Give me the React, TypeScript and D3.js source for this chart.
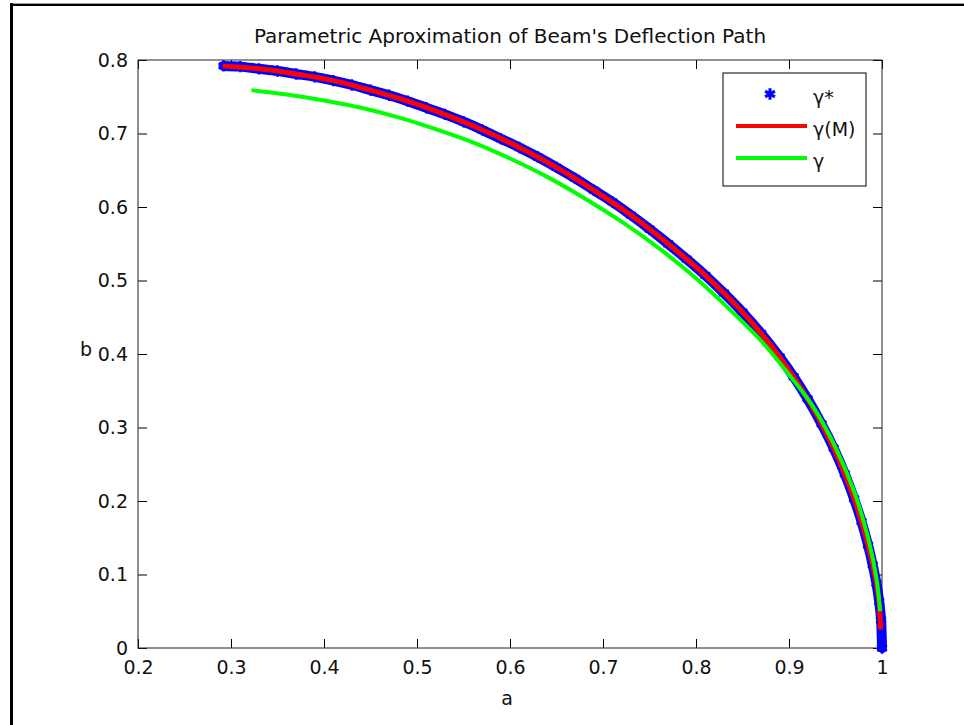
import React, { useRef, useEffect } from "react";
import * as d3 from "d3";

// gamma* : measured deflection path (blue stars)
const starA = [0.292, 0.31, 0.33, 0.35, 0.37, 0.39, 0.41, 0.43, 0.45, 0.47, 0.49, 0.51, 0.53, 0.55, 0.57, 0.59, 0.61, 0.63, 0.65, 0.67, 0.69, 0.71, 0.73, 0.75, 0.77, 0.79, 0.81, 0.83, 0.85, 0.87, 0.89, 0.905, 0.92, 0.935, 0.948, 0.96, 0.97, 0.978, 0.985, 0.99, 0.994, 0.997, 0.999, 1.0];
const starB = [0.792, 0.791, 0.788, 0.785, 0.781, 0.777, 0.772, 0.766, 0.759, 0.752, 0.744, 0.735, 0.726, 0.716, 0.705, 0.693, 0.681, 0.668, 0.654, 0.639, 0.623, 0.607, 0.589, 0.57, 0.55, 0.529, 0.507, 0.483, 0.457, 0.428, 0.396, 0.369, 0.339, 0.305, 0.272, 0.237, 0.203, 0.172, 0.14, 0.113, 0.088, 0.063, 0.038, 0.0];

// gamma(M) : red approximation
const approxA = [0.291, 0.33, 0.37, 0.41, 0.45, 0.49, 0.53, 0.57, 0.61, 0.65, 0.69, 0.73, 0.77, 0.81, 0.85, 0.89, 0.92, 0.948, 0.97, 0.985, 0.994, 0.997, 0.9985];
const approxB = [0.792, 0.788, 0.781, 0.772, 0.759, 0.744, 0.726, 0.705, 0.681, 0.654, 0.623, 0.589, 0.55, 0.507, 0.457, 0.396, 0.339, 0.272, 0.203, 0.14, 0.088, 0.06, 0.025];

// gamma : green path
const gammaA = [0.322, 0.36, 0.4, 0.44, 0.48, 0.52, 0.56, 0.6, 0.64, 0.68, 0.72, 0.76, 0.8, 0.84, 0.87, 0.9, 0.925, 0.95, 0.97, 0.985, 0.994, 0.998];
const gammaB = [0.759, 0.753, 0.745, 0.735, 0.722, 0.706, 0.688, 0.666, 0.641, 0.612, 0.58, 0.544, 0.503, 0.456, 0.418, 0.372, 0.33, 0.273, 0.213, 0.15, 0.095, 0.05];

const xTicks = [0.2, 0.3, 0.4, 0.5, 0.6, 0.7, 0.8, 0.9, 1];
const yTicks = [0, 0.1, 0.2, 0.3, 0.4, 0.5, 0.6, 0.7, 0.8];
const legendLabels = ["γ*", "γ(M)", "γ"];
const title = "Parametric Aproximation of Beam's Deflection Path";

type Pt = [number, number];
const zip = (a: number[], b: number[]): Pt[] => a.map((v, i) => [v, b[i]]);

export default function App() {
  const svgRef = useRef<SVGSVGElement>(null);

  useEffect(() => {
    if (!svgRef.current) return;
    const svg = d3.select(svgRef.current);
    svg.selectAll("*").remove();

    const font = "'DejaVu Sans', sans-serif";
    const left = 138, right = 882, top = 60, bottom = 648;

    const x = d3.scaleLinear().domain([0.2, 1]).range([left, right]);
    const y = d3.scaleLinear().domain([0, 0.8]).range([bottom, top]);
    const fmt = (d: d3.NumberValue) => String(+(+d).toFixed(1));

    svg.append("rect").attr("width", 964).attr("height", 725).attr("fill", "#fff");

    // window frame
    svg.append("rect").attr("x", 10).attr("y", 3).attr("width", 954).attr("height", 1).attr("fill", "#999");
    svg.append("rect").attr("x", 10).attr("y", 4).attr("width", 954).attr("height", 2).attr("fill", "#000");
    svg.append("rect").attr("x", 10).attr("y", 3).attr("width", 3).attr("height", 722).attr("fill", "#000");

    // axes
    const styleAxis = (g: d3.Selection<SVGGElement, unknown, null, undefined>) => {
      g.select(".domain").remove();
      g.selectAll(".tick line").attr("stroke", "#000");
      g.attr("font-family", font).attr("font-size", 19);
      g.selectAll(".tick text").attr("fill", "#111");
    };

    svg.append("g")
      .attr("transform", `translate(0,${bottom})`)
      .call(d3.axisBottom(x).tickValues(xTicks).tickSize(-9).tickPadding(13).tickFormat(fmt))
      .call(styleAxis);
    svg.append("g")
      .attr("transform", `translate(0,${top})`)
      .call(d3.axisTop(x).tickValues(xTicks).tickSize(-9).tickFormat(() => ""))
      .call(styleAxis);
    svg.append("g")
      .attr("transform", `translate(${left},0)`)
      .call(d3.axisLeft(y).tickValues(yTicks).tickSize(-9).tickPadding(10).tickFormat(fmt))
      .call(styleAxis);
    svg.append("g")
      .attr("transform", `translate(${right},0)`)
      .call(d3.axisRight(y).tickValues(yTicks).tickSize(-9).tickFormat(() => ""))
      .call(styleAxis);

    svg.append("rect")
      .attr("x", left).attr("y", top)
      .attr("width", right - left).attr("height", bottom - top)
      .attr("fill", "none").attr("stroke", "#222").attr("stroke-width", 1);

    const line = d3.line<Pt>()
      .x((d) => x(d[0]))
      .y((d) => y(d[1]))
      .curve(d3.curveCatmullRom);

    const star = zip(starA, starB);
    const starSym = d3.symbol().type(d3.symbolAsterisk).size(90);

    // blue stars: dense band
    svg.append("path")
      .attr("d", line(star))
      .attr("fill", "none")
      .attr("stroke", "#0000ff")
      .attr("stroke-width", 10)
      .attr("stroke-linecap", "round");
    svg.append("g")
      .selectAll("path")
      .data(star)
      .enter()
      .append("path")
      .attr("transform", (d) => `translate(${x(d[0])},${y(d[1])})`)
      .attr("d", starSym() as string)
      .attr("fill", "none")
      .attr("stroke", "#0000ff")
      .attr("stroke-width", 2.5);

    svg.append("path")
      .attr("d", line(zip(approxA, approxB)))
      .attr("fill", "none")
      .attr("stroke", "#ff0000")
      .attr("stroke-width", 5);

    svg.append("path")
      .attr("d", line(zip(gammaA, gammaB)))
      .attr("fill", "none")
      .attr("stroke", "#00ff00")
      .attr("stroke-width", 4);

    // labels
    svg.append("text")
      .attr("x", (left + right) / 2)
      .attr("y", 43)
      .attr("text-anchor", "middle")
      .attr("font-family", font)
      .attr("font-size", 20)
      .attr("fill", "#111")
      .text(title);
    svg.append("text")
      .attr("x", (left + right) / 2 - 3)
      .attr("y", 705)
      .attr("text-anchor", "middle")
      .attr("font-family", font)
      .attr("font-size", 19)
      .attr("fill", "#111")
      .text("a");
    svg.append("text")
      .attr("x", 86)
      .attr("y", 356)
      .attr("text-anchor", "middle")
      .attr("font-family", font)
      .attr("font-size", 19)
      .attr("fill", "#111")
      .text("b");

    // legend
    const legend = svg.append("g").attr("transform", "translate(723,73)");
    legend.append("rect")
      .attr("width", 143).attr("height", 113)
      .attr("fill", "#fff").attr("stroke", "#000").attr("stroke-width", 1);
    legend.append("path")
      .attr("transform", "translate(47,21)")
      .attr("d", starSym() as string)
      .attr("fill", "none")
      .attr("stroke", "#0000ff")
      .attr("stroke-width", 3);
    legend.append("circle").attr("cx", 47).attr("cy", 21).attr("r", 3).attr("fill", "#0000ff");
    [["#ff0000", 53], ["#00ff00", 85]].forEach(([c, yy]) => {
      legend.append("line")
        .attr("x1", 13).attr("x2", 84)
        .attr("y1", yy).attr("y2", yy)
        .attr("stroke", c as string).attr("stroke-width", 4);
    });
    legendLabels.forEach((t, i) => {
      legend.append("text")
        .attr("x", 90)
        .attr("y", 31 + i * 32)
        .attr("font-family", font)
        .attr("font-size", 19)
        .attr("fill", "#111")
        .text(t);
    });
  }, []);

  return (
    <svg
      ref={svgRef}
      width={964}
      height={725}
      style={{ position: "absolute", left: 0, top: 0 }}
    ></svg>
  );
}
